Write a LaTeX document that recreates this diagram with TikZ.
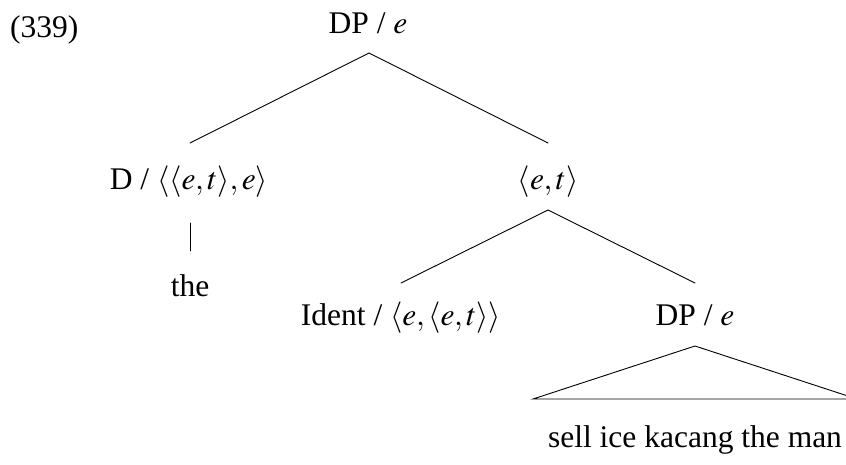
\documentclass[tikz,border=0pt]{standalone}
\usepackage{mathptmx}
\usepackage{fontspec}
\setmainfont{Liberation Serif}
\begin{document}
\begin{tikzpicture}[x=1pt,y=-1pt,
  lab/.style={anchor=base, inner sep=0pt, font=\fontsize{31.5}{38}\selectfont},
  edge/.style={line width=0.9pt, line cap=round}]
\clip (0,0) rectangle (846,464);
\node[lab, anchor=base west] (ex) at (10,37) {(339)};
\node[lab] (dp1) at (368,33) {DP / $e$};
\node[lab] (d) at (189,189) {D / $\langle\langle e,t\rangle,e\rangle$};
\node[lab] (et) at (548,189) {$\langle e,t\rangle$};
\node[lab] (the) at (190,296) {the};
\node[lab] (id) at (401,325) {Ident / $\langle e,\langle e,t\rangle\rangle$};
\node[lab] (dp2) at (695,325) {DP / $e$};
\node[lab] (sell) at (695,447) {sell ice kacang the man};
% line ends
\coordinate (dp1b) at (369,53);
\coordinate (dt) at (190,143);
\coordinate (ett) at (548,143);
\coordinate (etb) at (548,210);
\coordinate (db) at (190,223);
\coordinate (thet) at (190,251);
\coordinate (idt) at (401,283);
\coordinate (dp2t) at (695,283);
\coordinate (dp2b) at (695,346);
\coordinate (tl) at (533,399);
\coordinate (tr) at (857,399);
\draw[edge] (dt) -- (dp1b) -- (ett);
\draw[edge] (db) -- (thet);
\draw[edge] (idt) -- (etb) -- (dp2t);
\draw[edge, line join=miter] (dp2b) -- (tl) -- (tr) -- cycle;
\end{tikzpicture}
\end{document}
